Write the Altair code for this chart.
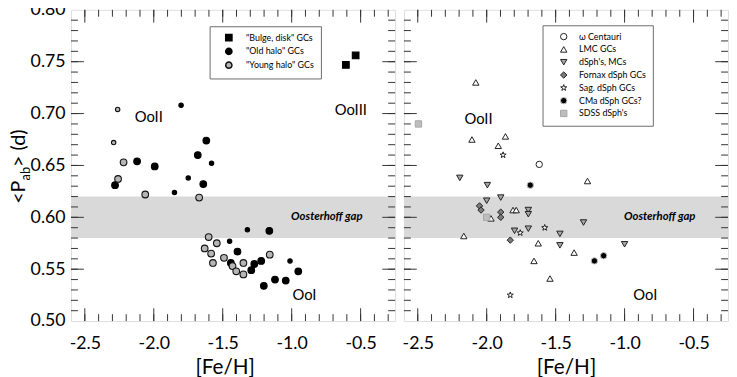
import altair as alt
import pandas as pd

left_groups = ['"Bulge, disk" GCs', '"Old halo" GCs', '"Young halo" GCs']
bulge_feh = [-0.607, -0.536]
bulge_p = [0.747, 0.756]
bulge_sz = ["L", "L"]
oldhalo_feh = [-1.802, -1.619, -1.681, -1.581, -2.121, -1.993, -1.750, -1.641,
               -2.281, -1.850, -1.321, -1.162, -1.450, -1.393, -1.012, -1.221,
               -1.441, -1.271, -1.293, -0.952, -1.121, -1.043, -1.202]
oldhalo_p = [0.708, 0.674, 0.660, 0.652, 0.654, 0.649, 0.638, 0.632,
             0.631, 0.624, 0.588, 0.587, 0.577, 0.567, 0.558, 0.558,
             0.556, 0.555, 0.549, 0.548, 0.540, 0.539, 0.534]
oldhalo_sz = ["S", "L", "L", "S", "L", "L", "S", "L",
              "L", "S", "S", "L", "S", "L", "S", "L",
              "L", "L", "L", "L", "L", "L", "L"]
younghalo_feh = [-2.262, -2.291, -2.219, -2.259, -2.062, -1.671, -1.602, -1.543,
                 -1.631, -1.584, -1.159, -1.491, -1.571, -1.350, -1.429, -1.402, -1.350]
younghalo_p = [0.704, 0.672, 0.653, 0.637, 0.622, 0.619, 0.581, 0.575,
               0.570, 0.565, 0.564, 0.561, 0.556, 0.556, 0.553, 0.548, 0.545]
younghalo_sz = ["S", "S", "L", "L", "L", "L", "L", "L",
                "L", "L", "L", "L", "L", "L", "L", "L", "L"]

right_groups = ["ω Centauri", "LMC GCs", "dSph's, MCs", "Fornax dSph GCs",
                "Sag. dSph GCs", "CMa dSph GCs?", "SDSS dSph's"]
omega_feh = [-1.619]
omega_p = [0.651]
lmc_feh = [-2.079, -2.107, -1.864, -1.916, -1.269, -1.809, -1.786, -1.969,
           -2.166, -1.626, -1.366, -1.657, -1.541]
lmc_p = [0.730, 0.675, 0.678, 0.669, 0.635, 0.607, 0.607, 0.599,
         0.582, 0.575, 0.566, 0.558, 0.541]
dsph_feh = [-2.195, -1.995, -1.898, -2.000, -1.698, -1.698, -1.298, -1.698,
            -1.798, -1.469, -1.469, -1.000]
dsph_p = [0.638, 0.631, 0.619, 0.616, 0.607, 0.603, 0.595, 0.589,
          0.587, 0.584, 0.573, 0.574]
fornax_feh = [-2.052, -2.041, -1.898, -1.898, -1.829]
fornax_p = [0.611, 0.607, 0.605, 0.600, 0.578]
sag_feh = [-1.881, -1.579, -1.757, -1.829]
sag_p = [0.660, 0.590, 0.585, 0.525]
cma_feh = [-1.684, -1.152, -1.219]
cma_p = [0.631, 0.563, 0.558]
sdss_feh = [-2.495, -2.000]
sdss_p = [0.690, 0.600]

left_labels = ["OoII", "OoIII", "OoI"]
left_label_x = [-2.036, -0.571, -0.907]
left_label_y = [0.697, 0.703, 0.525]
right_labels = ["OoII", "OoI"]
right_label_x = [-2.059, -0.850]
right_label_y = [0.695, 0.525]
gap_label = ["Oosterhoff gap"]
gap_x = [-0.745]
gap_y = [0.600]
gap_lo = [0.58]
gap_hi = [0.62]

x_labels = [-2.5, -2.0, -1.5, -1.0, -0.5]
x_minor = [-2.5, -2.4, -2.3, -2.2, -2.1, -2.0, -1.9, -1.8, -1.7, -1.6, -1.5, -1.4,
           -1.3, -1.2, -1.1, -1.0, -0.9, -0.8, -0.7, -0.6, -0.5, -0.4, -0.3]
y_labels = [0.50, 0.55, 0.60, 0.65, 0.70, 0.75, 0.80]
y_major = [0.55, 0.60, 0.65, 0.70, 0.75]
y_minor = [0.51, 0.52, 0.53, 0.54, 0.55, 0.56, 0.57, 0.58, 0.59, 0.60,
           0.61, 0.62, 0.63, 0.64, 0.65, 0.66, 0.67, 0.68, 0.69, 0.70,
           0.71, 0.72, 0.73, 0.74, 0.75, 0.76, 0.77, 0.78, 0.79]
y_title_parts = ["<P", "ab", "> (d)"]

FONT = "Lato"
W, H = 329, 316
TC = "#333333"
STAR = ("M0,-1L0.235,-0.324L0.951,-0.309L0.380,0.124L0.588,0.809L0,0.4"
        "L-0.588,0.809L-0.380,0.124L-0.951,-0.309L-0.235,-0.324Z")
xs = alt.Scale(domain=[-2.6, -0.25], nice=False, zero=False)
ys = alt.Scale(domain=[0.50, 0.80], nice=False, zero=False)
x_label_expr = "datum.value < 0 ? '-' + format(-datum.value, '.1f') : format(datum.value, '.1f')"


def x_axis(title_x):
    return alt.Axis(values=x_labels, labelExpr=x_label_expr, title="[Fe/H]",
                    ticks=False, tickSize=0, domain=False, grid=False,
                    labelFont=FONT, labelFontSize=18, labelColor="black", labelPadding=14,
                    titleFont=FONT, titleFontSize=21, titleFontWeight="normal",
                    titleColor="black", titlePadding=4, titleX=title_x)


y_axis_left = alt.Axis(values=y_labels, format=".2f", title=None, ticks=False, tickSize=0,
                       domain=False, grid=False, labelFont=FONT, labelFontSize=18,
                       labelColor="black", labelPadding=6)


def frame_layers(X, Y):
    layers = []
    for vals, L in [(x_minor, 7), (x_labels, 13)]:
        df = pd.DataFrame({"x": vals})
        layers.append(alt.Chart(df).mark_rule(color=TC, strokeWidth=1).encode(
            x=X, y=alt.value(H), y2=alt.value(H - L)))
        layers.append(alt.Chart(df).mark_rule(color=TC, strokeWidth=1).encode(
            x=X, y=alt.value(0), y2=alt.value(L)))
    for vals, L in [(y_minor, 7), (y_major, 13)]:
        df = pd.DataFrame({"y": vals})
        layers.append(alt.Chart(df).mark_rule(color=TC, strokeWidth=1).encode(
            y=Y, x=alt.value(0), x2=alt.value(L)))
        layers.append(alt.Chart(df).mark_rule(color=TC, strokeWidth=1).encode(
            y=Y, x=alt.value(W), x2=alt.value(W - L)))
    return layers


def band_layer(Y):
    df = pd.DataFrame({"y": gap_lo, "y2": gap_hi})
    return alt.Chart(df).mark_rect(color="#d9d9d9").encode(
        y=Y, y2="y2:Q", x=alt.value(0), x2=alt.value(W))


def gap_text(X, Y):
    df = pd.DataFrame({"x": gap_x, "y": gap_y, "t": gap_label})
    return alt.Chart(df).mark_text(font=FONT, fontSize=11.5, fontWeight="bold",
                                   fontStyle="italic", color="black").encode(x=X, y=Y, text="t:N")


def label_text(X, Y, labs, lx, ly):
    df = pd.DataFrame({"x": lx, "y": ly, "t": labs})
    return alt.Chart(df).mark_text(font=FONT, fontSize=15, color="black").encode(
        x=X, y=Y, text="t:N")


XL = alt.X("x:Q", scale=xs, axis=x_axis(156))
YL = alt.Y("y:Q", scale=ys, axis=y_axis_left)

left_df = pd.concat([
    pd.DataFrame({"x": bulge_feh, "y": bulge_p, "sz": bulge_sz, "grp": left_groups[0]}),
    pd.DataFrame({"x": oldhalo_feh, "y": oldhalo_p, "sz": oldhalo_sz, "grp": left_groups[1]}),
    pd.DataFrame({"x": younghalo_feh, "y": younghalo_p, "sz": younghalo_sz, "grp": left_groups[2]}),
], ignore_index=True)

leg_left = alt.Legend(title=None, orient="none", legendX=140.7, legendY=16.7, padding=7,
                      symbolOffset=8, labelOffset=13, rowPadding=1, labelFont=FONT,
                      labelFontSize=9, labelColor="black", strokeColor="#6b6b6b",
                      fillColor="white", symbolSize=40)

left_points = alt.Chart(left_df).mark_point(filled=True, opacity=1, strokeWidth=1.1).encode(
    x=XL, y=YL,
    shape=alt.Shape("grp:N", scale=alt.Scale(domain=left_groups, range=["square", "circle", "circle"]), legend=leg_left),
    fill=alt.Fill("grp:N", scale=alt.Scale(domain=left_groups, range=["#000000", "#000000", "#b5b5b5"]), legend=leg_left),
    stroke=alt.Stroke("grp:N", scale=alt.Scale(domain=left_groups, range=["#000000", "#000000", "#111111"]), legend=leg_left),
    size=alt.Size("sz:O", scale=alt.Scale(domain=["L", "S"], range=[46, 20]), legend=None),
)

tdf = pd.DataFrame({"t": [0]})
ytitle = [
    alt.Chart(tdf).mark_text(angle=270, align="left", baseline="alphabetic", font=FONT,
                             fontSize=20, color="black").encode(
        x=alt.value(-47), y=alt.value(197), text=alt.value(y_title_parts[0])),
    alt.Chart(tdf).mark_text(angle=270, align="left", baseline="alphabetic", font=FONT,
                             fontSize=13, color="black").encode(
        x=alt.value(-42), y=alt.value(173.2), text=alt.value(y_title_parts[1])),
    alt.Chart(tdf).mark_text(angle=270, align="left", baseline="alphabetic", font=FONT,
                             fontSize=20, color="black").encode(
        x=alt.value(-47), y=alt.value(159.5), text=alt.value(y_title_parts[2])),
]

left = alt.layer(
    band_layer(YL), *frame_layers(XL, YL), gap_text(XL, YL),
    label_text(XL, YL, left_labels, left_label_x, left_label_y),
    left_points, *ytitle,
).properties(width=W, height=H)

XR = alt.X("x:Q", scale=xs, axis=x_axis(164.5))
YR = alt.Y("y:Q", scale=ys, axis=None)

right_df = pd.concat([
    pd.DataFrame({"x": omega_feh, "y": omega_p, "grp": right_groups[0]}),
    pd.DataFrame({"x": lmc_feh, "y": lmc_p, "grp": right_groups[1]}),
    pd.DataFrame({"x": dsph_feh, "y": dsph_p, "grp": right_groups[2]}),
    pd.DataFrame({"x": fornax_feh, "y": fornax_p, "grp": right_groups[3]}),
    pd.DataFrame({"x": sag_feh, "y": sag_p, "grp": right_groups[4]}),
    pd.DataFrame({"x": cma_feh, "y": cma_p, "grp": right_groups[5]}),
    pd.DataFrame({"x": sdss_feh, "y": sdss_p, "grp": right_groups[6]}),
], ignore_index=True)

leg_right = alt.Legend(title=None, orient="none", legendX=140.7, legendY=15.7, padding=7,
                       symbolOffset=10, labelOffset=11, rowPadding=2, labelFont=FONT,
                       labelFontSize=9, labelColor="black", strokeColor="#6b6b6b",
                       fillColor="white")

right_points = alt.Chart(right_df).mark_point(filled=True, opacity=1).encode(
    x=XR, y=YR,
    shape=alt.Shape("grp:N", scale=alt.Scale(domain=right_groups, range=[
        "circle", "triangle-up", "triangle-down", "diamond", STAR, "circle", "square"]), legend=leg_right),
    fill=alt.Fill("grp:N", scale=alt.Scale(domain=right_groups, range=[
        "#ffffff", "#ffffff", "#a6a6a6", "#7a7a7a", "#ffffff", "#000000", "#bdbdbd"]), legend=leg_right),
    stroke=alt.Stroke("grp:N", scale=alt.Scale(domain=right_groups, range=[
        "#222222", "#222222", "#222222", "#222222", "#222222", "#c4c4c4", "#a8a8a8"]), legend=leg_right),
    strokeWidth=alt.StrokeWidth("grp:N", scale=alt.Scale(domain=right_groups, range=[
        1, 1, 1, 1, 1, 2.4, 0.8]), legend=leg_right),
    size=alt.Size("grp:N", scale=alt.Scale(domain=right_groups, range=[
        42, 42, 42, 46, 70, 40, 38]), legend=leg_right),
)

right = alt.layer(
    band_layer(YR), *frame_layers(XR, YR), gap_text(XR, YR),
    label_text(XR, YR, right_labels, right_label_x, right_label_y),
    right_points,
).properties(width=W, height=H)

chart = alt.hconcat(left, right, spacing=5).resolve_scale(
    shape="independent", fill="independent", stroke="independent",
    size="independent", strokeWidth="independent",
).configure_view(stroke=TC, strokeWidth=1.2).configure(
    font=FONT, background="white"
).properties(padding={"left": 0, "top": -11, "right": 0, "bottom": 0})

chart.save("out.html", embed_options={"renderer": "svg", "actions": False})
